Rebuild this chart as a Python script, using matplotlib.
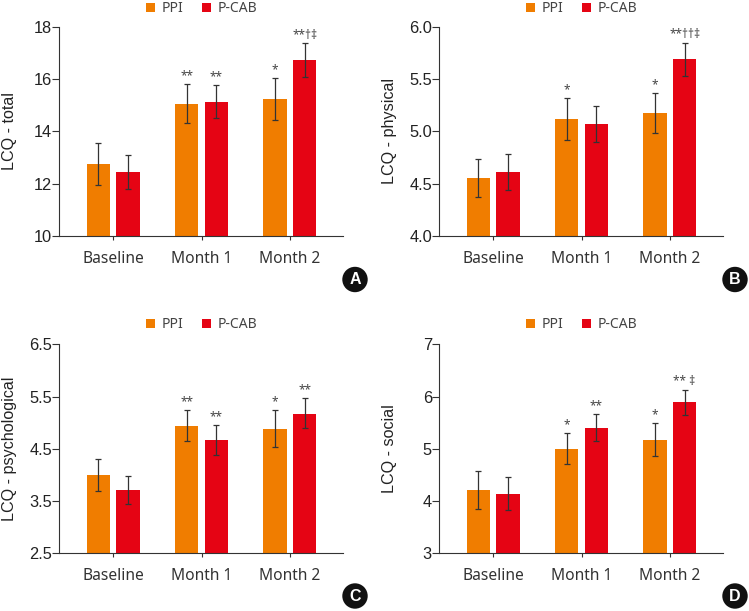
import numpy as np
import matplotlib
matplotlib.use('Agg')
import matplotlib.pyplot as plt
from matplotlib.patches import Circle

W, H = 749, 611
ORANGE = '#f07d00'
RED = '#e50414'
DARK = '#333333'

categories = ['Baseline', 'Month 1', 'Month 2']
series_names = ['PPI', 'P-CAB']

# mean, upper, lower
total_ppi = [12.75, 15.06, 15.22]
total_ppi_hi = [13.57, 15.81, 16.03]
total_ppi_lo = [11.96, 14.32, 14.43]
total_pcab = [12.43, 15.13, 16.71]
total_pcab_hi = [13.08, 15.78, 17.36]
total_pcab_lo = [11.80, 14.50, 16.06]

phys_ppi = [4.554, 5.115, 5.172]
phys_ppi_hi = [4.74, 5.318, 5.366]
phys_ppi_lo = [4.376, 4.914, 4.984]
phys_pcab = [4.608, 5.067, 5.688]
phys_pcab_hi = [4.783, 5.239, 5.847]
phys_pcab_lo = [4.436, 4.898, 5.525]

psy_ppi = [3.99, 4.93, 4.88]
psy_ppi_hi = [4.30, 5.24, 5.24]
psy_ppi_lo = [3.70, 4.64, 4.535]
psy_pcab = [3.706, 4.66, 5.17]
psy_pcab_hi = [3.97, 4.95, 5.47]
psy_pcab_lo = [3.45, 4.38, 4.89]

soc_ppi = [4.206, 5.00, 5.175]
soc_ppi_hi = [4.58, 5.31, 5.49]
soc_ppi_lo = [3.84, 4.71, 4.87]
soc_pcab = [4.136, 5.405, 5.89]
soc_pcab_hi = [4.455, 5.67, 6.13]
soc_pcab_lo = [3.82, 5.15, 5.65]

total_marks = [['', '**', '*'], ['', '**', '**†‡']]
phys_marks = [['', '*', '*'], ['', '', '**††‡']]
psy_marks = [['', '**', '*'], ['', '**', '**']]
soc_marks = [['', '*', '*'], ['', '**', '** ‡']]

plt.rcParams['font.family'] = ['Liberation Sans', 'DejaVu Sans']

fig = plt.figure(figsize=(W / 100, H / 100), dpi=100)


def draw_panel(left, top, bottom, ylabel, ylim, yticks, yfmt, ppi, ppi_hi, ppi_lo,
               pcab, pcab_hi, pcab_lo, marks, letter, badge_xy, legend_y):
    right = left + 283.4
    ax = fig.add_axes([left / W, 1 - bottom / H, (right - left) / W, (bottom - top) / H])
    x = np.arange(3)
    bar_w = 0.265
    off = 0.168
    bars = []
    for i, (vals, hi, lo, col) in enumerate([(ppi, ppi_hi, ppi_lo, ORANGE), (pcab, pcab_hi, pcab_lo, RED)]):
        xs = x + (-off if i == 0 else off)
        vals, hi, lo = np.array(vals), np.array(hi), np.array(lo)
        b = ax.bar(xs, vals, bar_w, color=col, label=series_names[i], zorder=2)
        bars.append(b)
        ax.errorbar(xs, vals, yerr=[vals - lo, hi - vals], fmt='none', ecolor=DARK,
                    elinewidth=0.9, capsize=2.4, capthick=0.9, zorder=3)
        for xx, top_val, m in zip(xs, hi, marks[i]):
            if m:
                ax.annotate(m, (xx, top_val), xytext=(0, 6), textcoords='offset points',
                            ha='center', va='center', fontsize=8.5, color='#444444',
                            family=['Noto Sans', 'DejaVu Sans'], clip_on=False)
    ax.set_xlim(-0.612, 2.6)
    ax.set_ylim(*ylim)
    ax.set_xticks(x)
    ax.set_xticklabels(categories, family='Noto Sans', fontsize=11.2, color='#333333')
    ax.set_yticks(yticks)
    ax.set_yticklabels([yfmt % t for t in yticks], fontsize=11.8, color='#222222')
    ax.set_ylabel(ylabel, fontsize=11.6, color='#222222')
    ax.yaxis.set_label_coords(-42 / 283.4, 0.5)
    ax.tick_params(axis='x', length=2.9, width=0.8, color=DARK, pad=8)
    ax.tick_params(axis='y', length=4.8, width=0.8, color=DARK, pad=0.5)
    for s in ['top', 'right']:
        ax.spines[s].set_visible(False)
    for s in ['left', 'bottom']:
        ax.spines[s].set_color(DARK)
        ax.spines[s].set_linewidth(0.8)
    ax.legend(handles=[bars[0][0], bars[1][0]], labels=series_names, ncol=2, frameon=False,
              loc='center', bbox_to_anchor=((left + 142.5) / W, 1 - legend_y / H),
              bbox_transform=fig.transFigure, prop={'family': 'Noto Sans', 'size': 10},
              handlelength=0.63, handleheight=0.63, handletextpad=0.5, columnspacing=1.3,
              labelcolor='#444444')
    # circled panel letter
    overlay.add_patch(Circle(badge_xy, 12.7, color='#111111', lw=0))
    overlay.text(badge_xy[0], badge_xy[1] + 0.3, letter, color='white', fontsize=11.5,
                 fontweight='bold', ha='center', va='center', family='Liberation Sans')


overlay = fig.add_axes([0, 0, 1, 1], zorder=5)
overlay.set_xlim(0, W)
overlay.set_ylim(H, 0)
overlay.axis('off')

draw_panel(59.3, 26.7, 236, 'LCQ - total', (10, 18), [10, 12, 14, 16, 18], '%d',
           total_ppi, total_ppi_hi, total_ppi_lo, total_pcab, total_pcab_hi, total_pcab_lo,
           total_marks, 'A', (355, 279.5), 8.5)
draw_panel(439.3, 26.7, 236, 'LCQ - physical', (4, 6), [4, 4.5, 5, 5.5, 6], '%.1f',
           phys_ppi, phys_ppi_hi, phys_ppi_lo, phys_pcab, phys_pcab_hi, phys_pcab_lo,
           phys_marks, 'B', (735, 279.5), 8.5)
draw_panel(59.3, 344.3, 553.3, 'LCQ - psychological', (2.5, 6.5), [2.5, 3.5, 4.5, 5.5, 6.5], '%.1f',
           psy_ppi, psy_ppi_hi, psy_ppi_lo, psy_pcab, psy_pcab_hi, psy_pcab_lo,
           psy_marks, 'C', (355, 596), 325)
draw_panel(439.3, 344.3, 553.3, 'LCQ - social', (3, 7), [3, 4, 5, 6, 7], '%d',
           soc_ppi, soc_ppi_hi, soc_ppi_lo, soc_pcab, soc_pcab_hi, soc_pcab_lo,
           soc_marks, 'D', (735, 596), 325)

fig.savefig('out.png', dpi=100)
